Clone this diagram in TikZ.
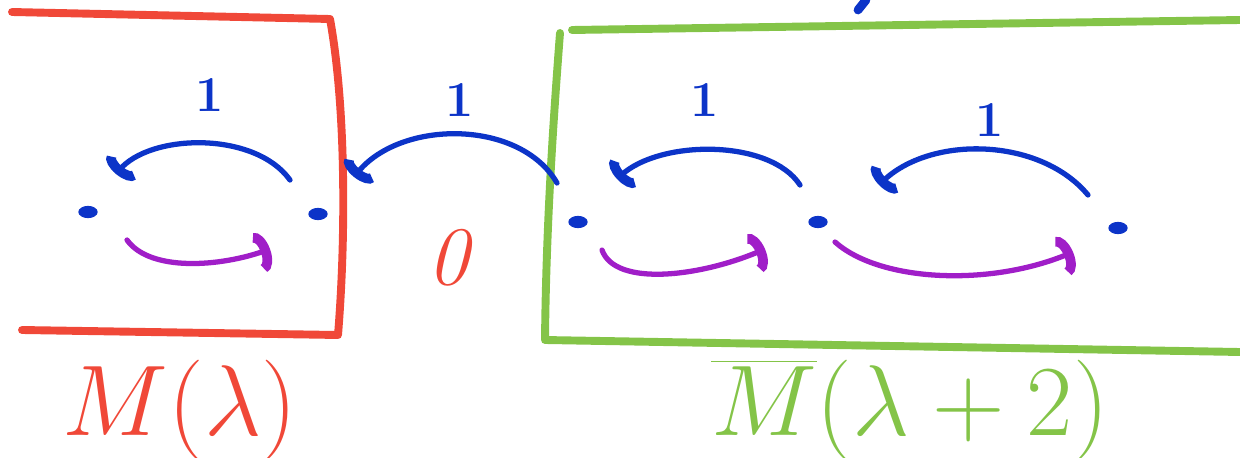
\documentclass[tikz,border=0pt]{standalone}
\usetikzlibrary{arrows.meta, shapes.geometric}
\definecolor{SketchRed}{RGB}{240, 72, 56}
\definecolor{SketchGreen}{RGB}{132, 196, 72}
\definecolor{SketchBlue}{RGB}{12, 52, 200}
\definecolor{SketchPurple}{RGB}{160, 30, 200}

\begin{document}
\begin{tikzpicture}[
  x=0.02cm, y=0.02cm,
  pt/.style={ellipse, fill=SketchBlue, inner sep=0pt,
             minimum width=11pt, minimum height=7pt},
  frame/.style={line width=4.5pt, line cap=round, line join=round},
  hop/.style={draw=SketchBlue, line width=3pt, line cap=round,
              -{Arc Barb[length=6pt, width=22pt, line width=2.5pt 1]}},
  lift/.style={draw=SketchPurple, line width=3pt, line cap=round,
               -{Arc Barb[length=7pt, width=24pt, line width=2.5pt 1]}},
  wlabel/.style={text=SketchBlue, font=\Huge\bfseries, scale=1.15},
  mlabel/.style={font=\Huge, scale=2.3}
]
  \useasboundingbox (0,0) rectangle (1240,457);

  % the two boxes
  \draw[frame, draw=SketchRed] (12,445) -- (330,438)
    .. controls (346,350) and (346,220) .. (338,122) -- (22,127);
  \draw[frame, draw=SketchGreen] (1240,437) -- (572,427);
  \draw[frame, draw=SketchGreen] (560,424)
    .. controls (552,320) and (546,220) .. (545,117) -- (1240,105);

  % weight vectors
  \node[pt] (v1) at (88,245) {};
  \node[pt] (v2) at (318,243) {};
  \node[pt] (v3) at (578,235) {};
  \node[pt] (v4) at (818,235) {};
  \node[pt] (v5) at (1118,229) {};

  % ends of the lowering arcs
  \coordinate (a1s) at (290,277);  \coordinate (a1e) at (116,283);
  \coordinate (a2s) at (557,274);  \coordinate (a2e) at (354,280);
  \coordinate (a3s) at (800,272);  \coordinate (a3e) at (617,278);
  \coordinate (a4s) at (1088,262); \coordinate (a4e) at (879,272);

  \draw[hop] (a1s) .. controls (255,326) and (150,324) .. (a1e);
  \draw[hop] (a2s) .. controls (520,338) and (400,338) .. (a2e);
  \draw[hop] (a3s) .. controls (770,318) and (660,318) .. (a3e);
  \draw[hop] (a4s) .. controls (1040,320) and (930,322) .. (a4e);

  % ends of the raising arcs
  \coordinate (b1s) at (127,217);  \coordinate (b1e) at (270,208);
  \coordinate (b2s) at (602,207);  \coordinate (b2e) at (765,208);
  \coordinate (b3s) at (835,215);  \coordinate (b3e) at (1073,205);

  \draw[lift] (b1s) .. controls (150,185) and (220,190) .. (b1e);
  \draw[lift] (b2s) .. controls (615,170) and (700,180) .. (b2e);
  \draw[lift] (b3s) .. controls (880,175) and (990,170) .. (b3e);

  % labels
  \node[wlabel] (w1) at (210,362) {1};
  \node[wlabel] (w2) at (460,357) {1};
  \node[wlabel] (w3) at (705,357) {1};
  \node[wlabel] (w4) at (990,337) {1};
  \node[text=SketchRed, font=\Huge\itshape, scale=1.9] (zero) at (448,199) {0};

  \node[mlabel, text=SketchRed] (lhs) at (180,47) {$M(\lambda)$};
  \node[mlabel, text=SketchGreen] (rhs) at (910,47) {$\overline{M}(\lambda+2)$};

  % cut-off stroke at the top edge
  \draw[SketchBlue, line width=5pt, line cap=round] (858,447) -- (866,457);
\end{tikzpicture}
\end{document}
